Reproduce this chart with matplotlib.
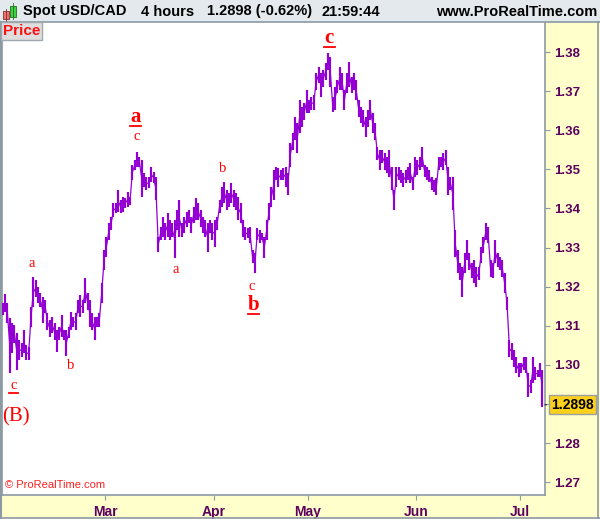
import numpy as np
import pandas as pd
import matplotlib
matplotlib.use("Agg")
import matplotlib.pyplot as plt
from matplotlib.patches import Rectangle
from matplotlib.lines import Line2D

# ---------------- data (half-day high/low ranges, USD/CAD 2017) ----------------
start_date = "2017-01-30"
end_date = "2017-07-07"
last_price = 1.2898
pct_change = -0.62
month_labels = ["Mar", "Apr", "May", "Jun", "Jul"]

highs = [
    1.3158, 1.3181, 1.3158, 1.3120, 1.3106, 1.3101, 1.3081, 1.3063, 1.3055, 1.3089,
    1.3050, 1.3045, 1.3148, 1.3224, 1.3217, 1.3199, 1.3183, 1.3173, 1.3166, 1.3132,
    1.3114, 1.3122, 1.3106, 1.3089, 1.3096, 1.3127, 1.3089, 1.3089, 1.3096, 1.3135,
    1.3122, 1.3132, 1.3166, 1.3178, 1.3166, 1.3222, 1.3183, 1.3166, 1.3132, 1.3122,
    1.3122, 1.3132, 1.3209, 1.3294, 1.3327, 1.3362, 1.3378, 1.3413, 1.3413, 1.3447,
    1.3421, 1.3429, 1.3426, 1.3442, 1.3429, 1.3511, 1.3524, 1.3544, 1.3531, 1.3524,
    1.3490, 1.3480, 1.3480, 1.3506, 1.3493, 1.3480, 1.3327, 1.3352, 1.3378, 1.3362,
    1.3388, 1.3370, 1.3362, 1.3370, 1.3396, 1.3421, 1.3362, 1.3378, 1.3391, 1.3396,
    1.3378, 1.3403, 1.3426, 1.3413, 1.3396, 1.3378, 1.3370, 1.3362, 1.3370, 1.3362,
    1.3370, 1.3378, 1.3421, 1.3455, 1.3468, 1.3447, 1.3439, 1.3465, 1.3447, 1.3439,
    1.3429, 1.3413, 1.3370, 1.3352, 1.3350, 1.3352, 1.3294, 1.3286, 1.3350, 1.3345,
    1.3337, 1.3327, 1.3370, 1.3413, 1.3455, 1.3498, 1.3506, 1.3503, 1.3498, 1.3503,
    1.3506, 1.3490, 1.3567, 1.3592, 1.3634, 1.3618, 1.3677, 1.3659, 1.3669, 1.3703,
    1.3677, 1.3685, 1.3690, 1.3746, 1.3762, 1.3746, 1.3754, 1.3772, 1.3797, 1.3787,
    1.3685, 1.3710, 1.3728, 1.3762, 1.3746, 1.3703, 1.3746, 1.3775, 1.3736, 1.3746,
    1.3728, 1.3677, 1.3659, 1.3652, 1.3634, 1.3652, 1.3677, 1.3644, 1.3618, 1.3557,
    1.3549, 1.3549, 1.3541, 1.3531, 1.3549, 1.3506, 1.3447, 1.3506, 1.3506, 1.3498,
    1.3490, 1.3498, 1.3506, 1.3516, 1.3480, 1.3531, 1.3524, 1.3531, 1.3557, 1.3511,
    1.3506, 1.3498, 1.3480, 1.3473, 1.3478, 1.3531, 1.3531, 1.3541, 1.3549, 1.3506,
    1.3480, 1.3480, 1.3345, 1.3294, 1.3260, 1.3250, 1.3286, 1.3319, 1.3286, 1.3260,
    1.3268, 1.3250, 1.3250, 1.3301, 1.3327, 1.3362, 1.3352, 1.3268, 1.3260, 1.3319,
    1.3286, 1.3276, 1.3268, 1.3234, 1.3173, 1.3063, 1.3055, 1.3038, 1.3020, 1.3004,
    1.3004, 1.3020, 1.3020, 1.2979, 1.2961, 1.3020, 1.2994, 1.2987, 1.3004, 1.2987,
]
lows = [
    1.3127, 1.3135, 1.3106, 1.2979, 1.3030, 1.3055, 1.2987, 1.3012, 1.3020, 1.3030,
    1.3012, 1.3012, 1.3096, 1.3148, 1.3173, 1.3158, 1.3148, 1.3106, 1.3132, 1.3089,
    1.3071, 1.3081, 1.3063, 1.3033, 1.3063, 1.3071, 1.3063, 1.3023, 1.3069, 1.3089,
    1.3096, 1.3089, 1.3132, 1.3122, 1.3132, 1.3158, 1.3140, 1.3096, 1.3089, 1.3063,
    1.3096, 1.3096, 1.3158, 1.3242, 1.3276, 1.3319, 1.3345, 1.3378, 1.3388, 1.3391,
    1.3388, 1.3391, 1.3401, 1.3403, 1.3408, 1.3473, 1.3498, 1.3506, 1.3506, 1.3429,
    1.3455, 1.3447, 1.3452, 1.3468, 1.3465, 1.3421, 1.3289, 1.3319, 1.3327, 1.3319,
    1.3327, 1.3319, 1.3327, 1.3274, 1.3345, 1.3327, 1.3327, 1.3337, 1.3352, 1.3362,
    1.3337, 1.3362, 1.3370, 1.3370, 1.3352, 1.3337, 1.3327, 1.3289, 1.3337, 1.3319,
    1.3301, 1.3345, 1.3388, 1.3403, 1.3413, 1.3396, 1.3403, 1.3413, 1.3403, 1.3396,
    1.3370, 1.3362, 1.3327, 1.3319, 1.3324, 1.3311, 1.3260, 1.3234, 1.3319, 1.3311,
    1.3319, 1.3274, 1.3319, 1.3370, 1.3403, 1.3421, 1.3473, 1.3455, 1.3473, 1.3473,
    1.3455, 1.3434, 1.3506, 1.3549, 1.3575, 1.3541, 1.3592, 1.3608, 1.3626, 1.3644,
    1.3644, 1.3652, 1.3652, 1.3703, 1.3720, 1.3685, 1.3710, 1.3728, 1.3754, 1.3710,
    1.3647, 1.3652, 1.3695, 1.3703, 1.3703, 1.3652, 1.3695, 1.3710, 1.3695, 1.3703,
    1.3677, 1.3634, 1.3618, 1.3608, 1.3582, 1.3608, 1.3626, 1.3592, 1.3575, 1.3524,
    1.3498, 1.3516, 1.3498, 1.3490, 1.3480, 1.3447, 1.3396, 1.3455, 1.3473, 1.3465,
    1.3455, 1.3465, 1.3473, 1.3465, 1.3447, 1.3480, 1.3485, 1.3498, 1.3506, 1.3480,
    1.3473, 1.3468, 1.3447, 1.3442, 1.3434, 1.3498, 1.3506, 1.3498, 1.3511, 1.3434,
    1.3447, 1.3396, 1.3276, 1.3234, 1.3217, 1.3173, 1.3234, 1.3268, 1.3242, 1.3222,
    1.3209, 1.3199, 1.3217, 1.3260, 1.3286, 1.3319, 1.3311, 1.3224, 1.3222, 1.3260,
    1.3250, 1.3242, 1.3224, 1.3183, 1.3140, 1.3020, 1.3012, 1.2994, 1.2979, 1.2969,
    1.2979, 1.2987, 1.2979, 1.2917, 1.2927, 1.2953, 1.2961, 1.2969, 1.2969, 1.2892,
]
price_ticks = [1.27, 1.28, 1.29, 1.30, 1.31, 1.32, 1.33, 1.34, 1.35, 1.36, 1.37, 1.38]

# Elliott-wave labels: (text, half-day index, price, large?, underlined?)
wave_labels = [
    ("c", 4.5, 1.2948, False, True),
    ("a", 12.2, 1.3258, False, False),
    ("b", 28.9, 1.2999, False, False),
    ("a", 56.2, 1.3634, True, True),
    ("c", 56.8, 1.3585, False, False),
    ("a", 73.4, 1.3245, False, False),
    ("b", 93.3, 1.3501, False, False),
    ("c", 105.5, 1.3201, False, False),
    ("b", 106.4, 1.3153, True, True),
    ("c", 138.6, 1.3836, True, True),
]
degree_label = ("(B)", 5.8, 1.2866)

# ---------------- figure ----------------
W, H = 600, 519
fig = plt.figure(figsize=(W / 100, H / 100), dpi=100)
fig.patch.set_facecolor("#ffffcc")

def fx(px):
    return px / W

def fy(py):
    return 1 - py / H

BORDER = "#8c9aa4"
AXCOL = "#5e005e"
PURPLE = "#9400d3"

# header
fig.patches.append(Rectangle((0, fy(22)), 1, 22 / H, transform=fig.transFigure,
                             facecolor="#e3e9ed", edgecolor="none", zorder=0))
fig.lines.append(Line2D([0, 1], [fy(22), fy(22)], transform=fig.transFigure,
                        color=BORDER, lw=1.2))
# little candlestick icon
fig.patches.append(Rectangle((fx(3), fy(19)), 6 / W, 8 / H, transform=fig.transFigure,
                             facecolor="#f07070", edgecolor="#803030", lw=0.6))
fig.lines.append(Line2D([fx(6), fx(6)], [fy(21), fy(9)], transform=fig.transFigure,
                        color="#803030", lw=0.6))
fig.patches.append(Rectangle((fx(10), fy(17)), 6 / W, 11 / H, transform=fig.transFigure,
                             facecolor="#40d040", edgecolor="#207020", lw=0.6))
fig.lines.append(Line2D([fx(13), fx(13)], [fy(19), fy(3)], transform=fig.transFigure,
                        color="#207020", lw=0.6))

hfont = dict(family="Liberation Sans", weight="bold", size=10.5, color="black",
             va="center")
fig.text(fx(23), fy(11.5), "Spot USD/CAD", **hfont)
fig.text(fx(141), fy(11.5), "4 hours", **hfont)
fig.text(fx(207), fy(11.5), f"{last_price:.4f} ({pct_change:.2f}%)", **hfont)
fig.text(fx(322), fy(11.5), "21:59:44", **hfont)
fig.text(fx(597), fy(11.5), "www.ProRealTime.com", ha="right", **hfont)

# main axes
ax = fig.add_axes([fx(2), fy(495), (545 - 2) / W, (495 - 22) / H])
ax.set_facecolor("white")

n = len(highs)
x = np.arange(n)
hi = np.array(highs)
lo = np.array(lows)
ax.vlines(x, lo, hi, color=PURPLE, lw=1.55, zorder=3)
ax.plot(x, (hi + lo) / 2, color=PURPLE, lw=0.9, zorder=3)

ax.set_xlim(-0.3, n + 0.1)
ax.set_ylim(1.2667, 1.3877)

# x ticks from trading dates (two half-day ranges per business day)
days = pd.bdate_range(start_date, end_date)
month_starts = [i for i in range(1, len(days))
                if days[i].month != days[i - 1].month
                and days[i].strftime("%b") in month_labels]
ax.set_xticks([2 * i - 0.5 for i in month_starts])
ax.set_xticklabels([days[i].strftime("%b") for i in month_starts])

ax.yaxis.tick_right()
ax.set_yticks(price_ticks)
# the 1.29 label sits under the last-price tag in the reference
ax.set_yticklabels(["" if abs(v - 1.29) < 1e-9 else f"{v:.2f}" for v in price_ticks])

for lab in ax.get_xticklabels() + ax.get_yticklabels():
    lab.set_fontfamily("Liberation Sans")
    lab.set_fontweight("bold")
    lab.set_color(AXCOL)
for lab in ax.get_xticklabels():
    lab.set_fontsize(10)
for lab in ax.get_yticklabels():
    lab.set_fontsize(9.5)
ax.tick_params(axis="x", direction="out", length=3.5, color=BORDER, pad=4)
ax.tick_params(axis="y", direction="out", length=3.5, color=BORDER, pad=3)

for side in ["left", "right", "bottom"]:
    ax.spines[side].set_color(BORDER)
    ax.spines[side].set_linewidth(1.2)
ax.spines["top"].set_visible(False)

# outer frame lines
fig.lines.append(Line2D([0, 1], [fy(518), fy(518)], transform=fig.transFigure,
                        color=BORDER, lw=1.2))
fig.lines.append(Line2D([fx(1), fx(1)], [0, fy(22)], transform=fig.transFigure,
                        color=BORDER, lw=1.5))
fig.lines.append(Line2D([fx(598), fx(598)], [0, fy(22)], transform=fig.transFigure,
                        color=BORDER, lw=1.2))

# "Price" box
fig.text(fx(3), fy(31), "Price", family="Liberation Sans", weight="bold", size=11,
         color="#ff1010", va="center",
         bbox=dict(boxstyle="square,pad=0.12", fc="#dedede", ec="#a0a8ae", lw=1))

# last price tag
ax.annotate(f"{last_price:.4f}", xy=(1.0, last_price),
            xycoords=("axes fraction", "data"), xytext=(4.5, 0),
            textcoords="offset points", ha="left", va="center",
            family="Liberation Sans", weight="bold", size=10, color="black",
            bbox=dict(boxstyle="square,pad=0.18", fc="#fcd01c", ec="#9aa0a0", lw=1),
            annotation_clip=False, zorder=10)
ax.annotate("", xy=(1.0, last_price), xycoords=("axes fraction", "data"),
            xytext=(3, 0), textcoords="offset points",
            arrowprops=dict(arrowstyle="-", color="#333333", lw=1),
            annotation_clip=False)

# wave labels
for txt, xi, py, big, underline in wave_labels:
    size = 15 if big else 10.5
    weight = "bold" if big else "normal"
    ax.text(xi, py, txt, family="Liberation Serif", size=size, weight=weight,
            color="red", ha="center", va="center", zorder=5)
    if underline:
        half = 2.4 if big else 1.8
        drop = 0.0022 if big else 0.0020
        ax.plot([xi - half, xi + half], [py - drop, py - drop], color="red",
                lw=1.3, zorder=5)

ax.text(degree_label[1], degree_label[2], degree_label[0], family="Liberation Serif",
        size=15, color="red", ha="center", va="center", zorder=5)
ax.text(0.005, 0.01, "\u00a9 ProRealTime.com", transform=ax.transAxes,
        family="Liberation Sans", size=8, color="#ff2020", ha="left", va="bottom")

fig.savefig("out.png", dpi=100, facecolor=fig.get_facecolor())
